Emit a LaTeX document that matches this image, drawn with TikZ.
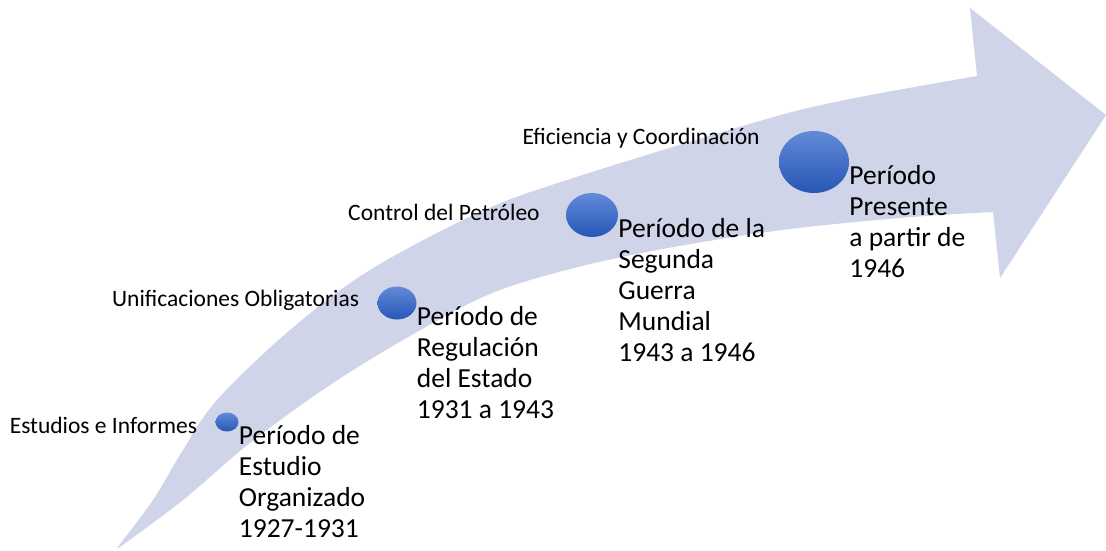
\documentclass[tikz,border=0pt]{standalone}
\usepackage{fontspec}
\setmainfont{Carlito}
\usetikzlibrary{positioning, shapes.geometric}

\definecolor{bandfill}{RGB}{207,212,233}
\definecolor{dotlight}{RGB}{98,138,216}
\definecolor{dotdark}{RGB}{40,86,182}

\begin{document}
\begin{tikzpicture}[x=1pt, y=1pt]

        % --- STYLES ---
        \tikzstyle{band} = [fill=bandfill, draw=none]
        \tikzstyle{dot} = [ellipse, draw=none, inner sep=0, top color=dotlight, bottom color=dotdark]
        \tikzstyle{phase} = [font=\fontsize{27.5}{31}\selectfont, align=left, inner sep=0]
        \tikzstyle{topic} = [font=\fontsize{23.5}{26}\selectfont, inner sep=0]

        % --- CANVAS ---
        \useasboundingbox (0,0) rectangle (1106,550);

        % --- CURVED ARROW ---
        \fill[band] plot[smooth, tension=0.55] coordinates {(117,2) (153,50) (183,100) (217,150) (290,220) (370,280) (480,338) (567,370) (763,430) (850,451) (977,474)}
            -- (970,542) -- (1106,435) -- (1000,272) -- (993,338)
            -- plot[smooth, tension=0.55] coordinates {(993,338) (900,332) (767,318) (617,292) (500,260) (417,218) (330,165) (250,107) (183,50) (120,3)}
            -- cycle;

        % --- MILESTONES ---
        \node[dot, minimum width=23, minimum height=19] (c1) at (227,128) {};
        \node[dot, minimum width=39, minimum height=33] (c2) at (397,247) {};
        \node[dot, minimum width=52, minimum height=44] (c3) at (592,335) {};
        \node[dot, minimum width=70, minimum height=62] (c4) at (814,388) {};

        % --- PERIODS ---
        \node[phase, below right=3 and 0 of c1.east] (p1) {Período de\\Estudio\\Organizado\\1927-1931};
        \node[phase, below right=3 and 0 of c2.east] (p2) {Período de\\Regulación\\del Estado\\1931 a 1943};
        \node[phase, below right=3 and 0 of c3.east] (p3) {Período de la\\Segunda\\Guerra\\Mundial\\1943 a 1946};
        \node[phase, below right=3 and 0 of c4.east] (p4) {Período\\Presente\\a partir de\\1946};

        % --- TOPICS ---
        \node[topic, left=18 of c1, yshift=-3] (t1) {Estudios e Informes};
        \node[topic, left=18 of c2, yshift=3] (t2) {Unificaciones Obligatorias};
        \node[topic, left=26 of c3, yshift=3] (t3) {Control del Petróleo};
        \node[topic, left=19 of c4, yshift=24] (t4) {Eficiencia y Coordinación};

\end{tikzpicture}
\end{document}
